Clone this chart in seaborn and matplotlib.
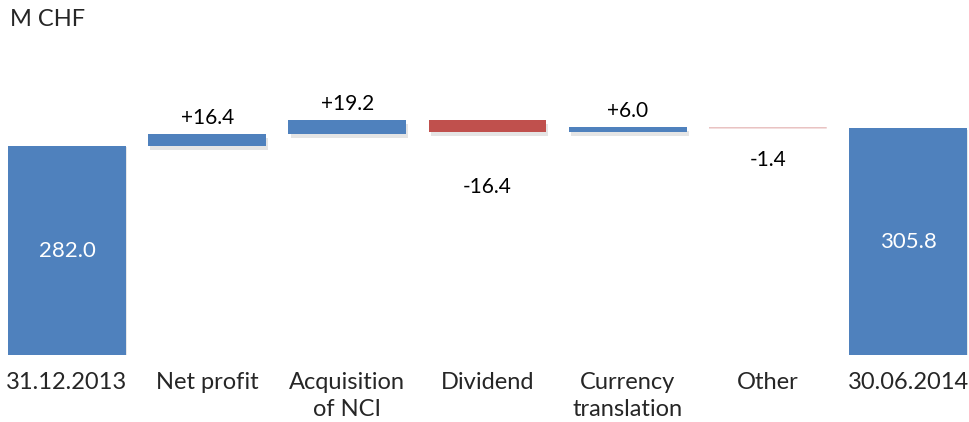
import matplotlib
matplotlib.use("Agg")
import matplotlib.pyplot as plt
import matplotlib.patheffects as pe
import seaborn as sns
import pandas as pd

categories = ["31.12.2013", "Net profit", "Acquisition\nof NCI", "Dividend",
              "Currency\ntranslation", "Other", "30.06.2014"]
steps = [282.0, 16.4, 19.2, -16.4, 6.0, -1.4, 305.8]
is_total = [True, False, False, False, False, False, True]
value_labels = ["282.0", "+16.4", "+19.2", "-16.4", "+6.0", "-1.4", "305.8"]
unit_label = "M CHF"

BLUE = "#4F81BD"
RED = "#C0504D"

# waterfall geometry: totals start at zero, deltas float on the running sum
bottoms, heights = [], []
running = 0.0
for v, tot in zip(steps, is_total):
    if tot:
        bottoms.append(0.0)
        heights.append(v)
        running = v
    else:
        lo = min(running, running + v)
        bottoms.append(lo)
        heights.append(abs(v))
        running += v

colors = [BLUE if (tot or v > 0) else RED for v, tot in zip(steps, is_total)]

df = pd.DataFrame({"cat": categories, "h": heights})

sns.set_theme(style="white")
plt.rcParams["font.family"] = ["Lato", "DejaVu Sans"]

fig = plt.figure(figsize=(9.70, 4.22), dpi=100)
ax = fig.add_axes([0.0, 67 / 422, 1.0, 1 - 67 / 422])

sns.barplot(data=df, x="cat", y="h", hue="cat", palette=colors, legend=False,
            width=0.84, saturation=1, ax=ax, linewidth=0)

for patch, b, h, tot, c in zip(ax.patches, bottoms, heights, is_total, colors):
    patch.set_y(b)
    patch.set_height(h)
    patch.set_facecolor(c)
    if tot:
        fx = [pe.SimplePatchShadow(offset=(1, -1), shadow_rgbFace="#8a8a8a", alpha=0.2), pe.Normal()]
    elif h > 3:
        fx = [pe.SimplePatchShadow(offset=(1.5, -3), shadow_rgbFace="#8a8a8a", alpha=0.22), pe.Normal()]
    else:
        # hairline-thin bar: render softly, like an anti-aliased sliver
        patch.set_alpha(0.5)
        patch.set_snap(False)
        fx = [pe.Normal()]
    patch.set_path_effects(fx)

# value labels
neg_offsets = {3: -55, 5: -32}
for i, (b, h, lab, tot) in enumerate(zip(bottoms, heights, value_labels, is_total)):
    if tot:
        ax.text(i, b + h / 2, lab, ha="center", va="center", color="white", fontsize=16)
    elif steps[i] > 0:
        ax.annotate(lab, (i, b + h), xytext=(0, 6), textcoords="offset pixels",
                    ha="center", va="bottom", fontsize=15, color="black")
    else:
        ax.annotate(lab, (i, b), xytext=(0, neg_offsets.get(i, -24)), textcoords="offset pixels",
                    ha="center", va="center", fontsize=15, color="black")

ax.set_ylim(0, 479)
ax.set_xlim(-0.478, 6.442)
ax.set_xlabel("")
ax.set_ylabel("")
ax.set_yticks([])
ax.tick_params(axis="x", length=0, pad=12, labelsize=17)
for t in ax.get_xticklabels():
    t.set_linespacing(1.4)
for s in ax.spines.values():
    s.set_visible(False)

fig.text(10 / 970, 1 - 19 / 422, unit_label, ha="left", va="center", fontsize=17)

fig.savefig("out.png", dpi=100)
